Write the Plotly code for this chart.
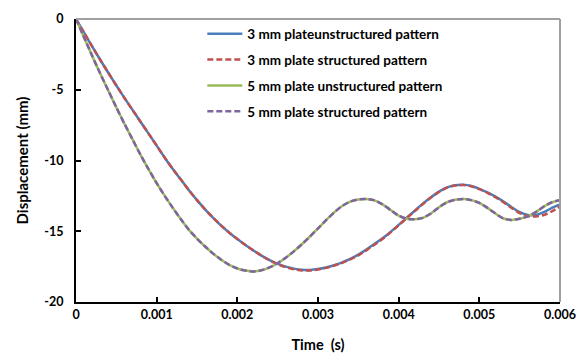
import plotly.graph_objects as go

# Time in seconds
time_s = [i * 0.0001 for i in range(61)]

# 3 mm plate, unstructured pattern (mm)
d3_unstructured = [0, -0.97, -1.93, -2.88, -3.8, -4.7, -5.57, -6.42, -7.26, -8.1,
                   -8.95, -9.8, -10.6, -11.35, -12.1, -12.8, -13.45, -14.05, -14.6, -15.1,
                   -15.55, -15.97, -16.36, -16.72, -17.04, -17.3, -17.5, -17.64, -17.72, -17.73,
                   -17.67, -17.56, -17.4, -17.2, -16.95, -16.65, -16.3, -15.9, -15.5, -15.05,
                   -14.55, -14.05, -13.55, -13.05, -12.6, -12.2, -11.9, -11.75, -11.72, -11.8,
                   -12.0, -12.25, -12.55, -12.9, -13.3, -13.65, -13.85, -13.85, -13.65, -13.35,
                   -13.1]
# 3 mm plate, structured pattern (mm)
d3_structured = [0, -0.97, -1.93, -2.88, -3.8, -4.7, -5.57, -6.42, -7.26, -8.1,
                 -8.95, -9.8, -10.6, -11.35, -12.1, -12.8, -13.45, -14.05, -14.6, -15.1,
                 -15.55, -15.97, -16.36, -16.73, -17.06, -17.33, -17.54, -17.69, -17.77, -17.77,
                 -17.7, -17.59, -17.43, -17.23, -16.98, -16.7, -16.35, -15.95, -15.55, -15.08,
                 -14.58, -14.07, -13.57, -13.07, -12.62, -12.22, -11.92, -11.77, -11.74, -11.82,
                 -12.02, -12.28, -12.6, -12.95, -13.35, -13.72, -13.92, -13.95, -13.85, -13.6,
                 -13.25]
# 5 mm plate, unstructured pattern (mm)
d5_unstructured = [0, -1.3, -2.6, -3.85, -5.05, -6.25, -7.4, -8.5, -9.6, -10.62,
                   -11.6, -12.5, -13.35, -14.15, -14.9, -15.52, -16.08, -16.58, -17.02, -17.38,
                   -17.63, -17.78, -17.84, -17.76, -17.56, -17.26, -16.87, -16.42, -15.92, -15.37,
                   -14.8, -14.22, -13.67, -13.21, -12.9, -12.75, -12.72, -12.82, -13.1, -13.5,
                   -13.9, -14.12, -14.15, -14.05, -13.75, -13.3, -12.95, -12.78, -12.72, -12.8,
                   -13.0, -13.35, -13.75, -14.1, -14.2, -14.12, -13.95, -13.65, -13.25, -12.95,
                   -12.78]
# 5 mm plate, structured pattern (mm)
d5_structured = list(d5_unstructured)

x_tick_vals = [0, 0.001, 0.002, 0.003, 0.004, 0.005, 0.006]
x_tick_text = ["0", "0.001", "0.002", "0.003", "0.004", "0.005", "0.006"]
y_tick_vals = [0, -5, -10, -15, -20]
y_tick_text = ["0", "-5", "-10", "-15", "-20"]

series = [
    ("3 mm plateunstructured pattern", d3_unstructured, "#4A7EBB", "solid"),
    ("3 mm plate structured pattern", d3_structured, "#C0504D", "6px,3px"),
    ("5 mm plate unstructured pattern", d5_unstructured, "#9BBB59", "solid"),
    ("5 mm plate structured pattern", d5_structured, "#8064A2", "6px,3px"),
]

FONT = "Lato"
fig = go.Figure()
for i, (name, vals, color, dash) in enumerate(series):
    fig.add_trace(go.Scatter(
        x=time_s, y=vals, mode="lines", name=name, legendgroup=f"g{i}",
        line=dict(color=color, width=2.5, dash=dash, shape="spline", smoothing=0.6),
    ))

fig.update_layout(
    width=587, height=362,
    margin=dict(l=76, r=27, t=11, b=57),
    paper_bgcolor="white", plot_bgcolor="white",
    font=dict(family=FONT, size=12, color="black", weight="bold"),
    showlegend=True,
    legend=dict(x=0.261, y=1.002, xanchor="left", yanchor="top",
                bgcolor="rgba(0,0,0,0)", font=dict(family=FONT, size=13.5, weight="bold"),
                tracegroupgap=5.3, itemwidth=35),
    xaxis=dict(range=[0, 0.006], tickvals=x_tick_vals, ticktext=x_tick_text,
               showgrid=False, zeroline=False, showline=True, linecolor="black", linewidth=2,
               ticks="inside", ticklen=5, tickwidth=1.5, tickcolor="black",
               title=dict(text="Time\u00a0\u00a0(s)", font=dict(family=FONT, size=14.5, weight="bold"), standoff=19),
               tickfont=dict(family=FONT, size=12.5, weight="bold")),
    yaxis=dict(range=[-20, 0], tickvals=y_tick_vals, ticktext=y_tick_text,
               showgrid=False, zeroline=False, showline=True, linecolor="black", linewidth=2,
               ticks="inside", ticklen=5, tickwidth=1.5, tickcolor="black",
               ticklabelstandoff=8,
               title=dict(text="Displacement (mm)", font=dict(family=FONT, size=15, weight="bold"), standoff=12),
               tickfont=dict(family=FONT, size=12.5, weight="bold")),
    shapes=[
        dict(type="line", xref="paper", yref="paper", x0=0, x1=1, y0=1, y1=1,
             line=dict(color="#A0A0A0", width=2)),
        dict(type="line", xref="paper", yref="paper", x0=1, x1=1, y0=0, y1=1,
             line=dict(color="#A0A0A0", width=2)),
    ],
)

fig.write_html("out.html")
